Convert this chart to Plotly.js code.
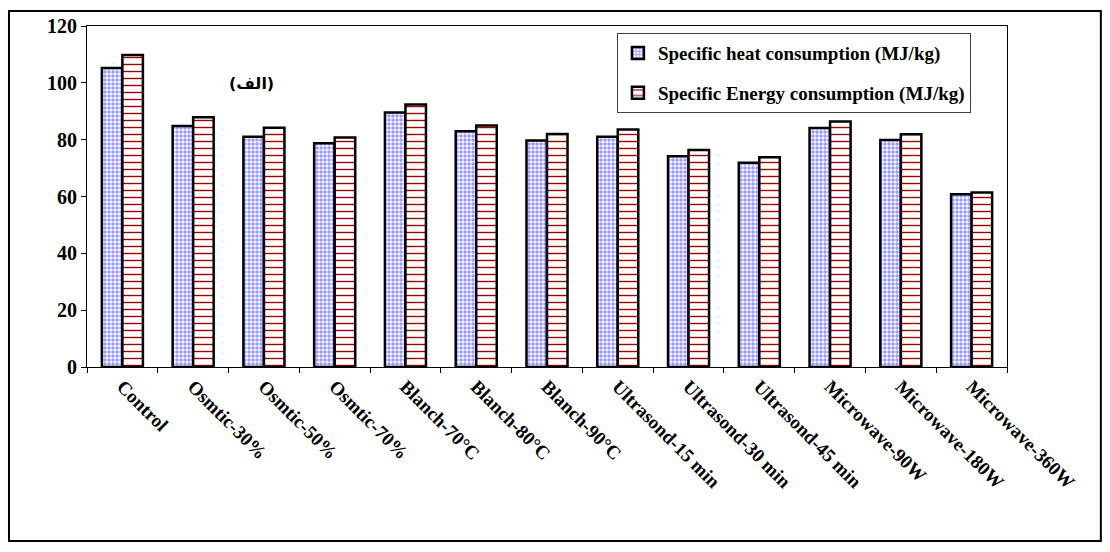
<!DOCTYPE html>
<html>
<head>
<meta charset="utf-8">
<script src="https://cdn.plot.ly/plotly-3.0.1.min.js"></script>
<style>html,body{margin:0;padding:0;background:#fff}#chart{width:1110px;height:552px}</style>
</head>
<body>
<div id="chart"></div>
<script>
const categories = ["Control","Osmtic-30%","Osmtic-50%","Osmtic-70%","Blanch-70°C","Blanch-80°C","Blanch-90°C","Ultrasond-15 min","Ultrasond-30 min","Ultrasond-45 min","Microwave-90W","Microwave-180W","Microwave-360W"];
const heatValues = [105.2, 84.8, 81.0, 78.7, 89.6, 83.0, 79.7, 81.0, 74.2, 71.9, 84.1, 79.9, 60.8];
const energyValues = [109.8, 87.9, 84.2, 80.8, 92.4, 85.0, 82.0, 83.6, 76.4, 73.8, 86.4, 81.9, 61.4];
const seriesNames = ["Specific heat consumption (MJ/kg)", "Specific Energy consumption (MJ/kg)"];
const yTicks = [0, 20, 40, 60, 80, 100, 120];

const serif = "Liberation Serif, Times New Roman, serif";

const traces = [
  {
    type: "bar", name: seriesNames[0], x: categories, y: heatValues,
    legendgroup: "a",
    marker: {
      color: "#ffffff",
      line: {color: "#000000", width: 2.5},
      pattern: {shape: ".", fgcolor: "#9999ff", bgcolor: "#ffffff", size: 4, solidity: 0.6, fillmode: "replace"}
    }
  },
  {
    type: "bar", name: seriesNames[1], x: categories, y: energyValues,
    legendgroup: "b",
    marker: {
      color: "#ffffff",
      line: {color: "#000000", width: 2.5},
      pattern: {shape: "-", fgcolor: "#a00000", bgcolor: "#ffffff", size: 7, solidity: 0.2, fillmode: "replace"}
    }
  }
];

const layout = {
  width: 1110, height: 552,
  margin: {l: 87, r: 103, t: 26, b: 185},
  paper_bgcolor: "#ffffff", plot_bgcolor: "#ffffff",
  font: {family: serif, size: 18, color: "#000000", weight: "bold"},
  barmode: "group",
  bargap: 0.42, bargroupgap: 0,
  showlegend: true,
  legend: {
    x: 0.576, y: 0.979, xanchor: "left", yanchor: "top",
    bordercolor: "#404040", borderwidth: 1, bgcolor: "#ffffff",
    font: {family: serif, size: 19, weight: "bold"},
    traceorder: "grouped", tracegroupgap: 12
  },
  xaxis: {
    type: "category",
    tickangle: 45,
    tickson: "boundaries",
    ticks: "outside", ticklen: 5, tickcolor: "#000000",
    showline: true, linecolor: "#000000", linewidth: 1, mirror: true,
    showgrid: false,
    tickfont: {family: serif, size: 19, weight: "bold"}
  },
  yaxis: {
    range: [0, 120],
    tickvals: yTicks,
    ticks: "outside", ticklen: 5, tickcolor: "#000000",
    showline: true, linecolor: "#000000", linewidth: 1, mirror: true,
    showgrid: false, zeroline: false,
    tickfont: {family: serif, size: 20, weight: "bold"}
  },
  annotations: [
    {xref: "paper", yref: "paper", x: 0.152, y: 0.865, text: "(الف)", showarrow: false,
     font: {family: "DejaVu Sans, Noto Sans", size: 16, color: "#000000", weight: "bold"}}
  ],
  shapes: [
    {type: "rect", xref: "paper", yref: "paper", x0: -0.0848, x1: 1.102, y0: -0.510, y1: 1.044,
     line: {color: "#000000", width: 2}, fillcolor: "rgba(0,0,0,0)", layer: "below"}
  ]
};

Plotly.newPlot("chart", traces, layout, {displayModeBar: false, staticPlot: true});
</script>
</body>
</html>
